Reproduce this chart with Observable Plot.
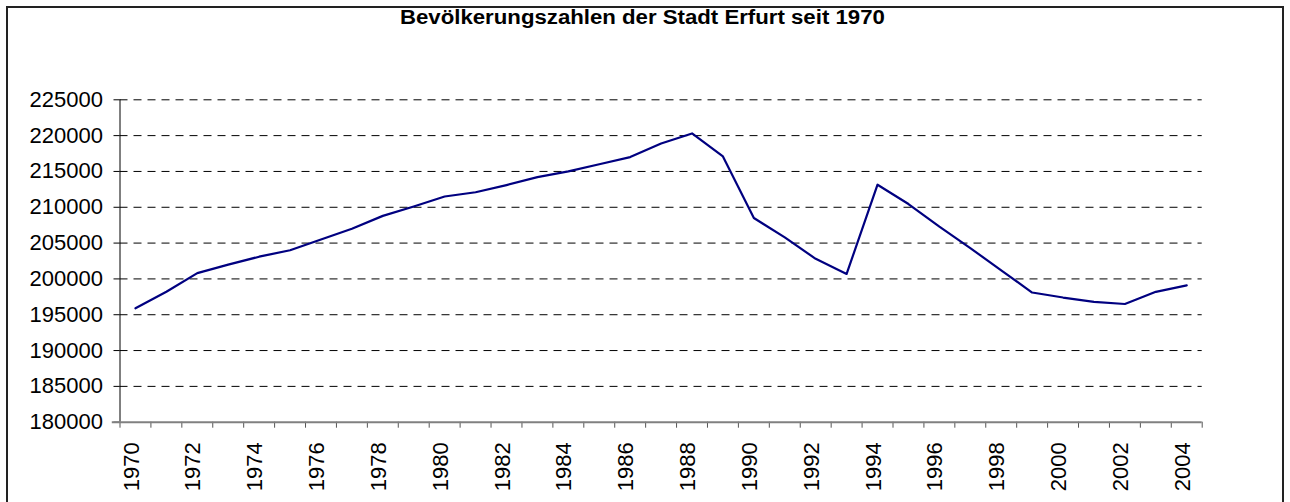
<!DOCTYPE html>
<html>
<head>
<meta charset="utf-8">
<script src="https://cdn.jsdelivr.net/npm/d3@7"></script>
<script src="https://cdn.jsdelivr.net/npm/@observablehq/plot@0.6"></script>
<style>
  html, body { margin: 0; padding: 0; background: #fff; }
  body { width: 1290px; height: 502px; overflow: hidden; position: relative; font-family: "Liberation Sans", Arial, sans-serif; }
  #frame { position: absolute; left: 6px; top: 6px; width: 1278px; height: 560px; box-sizing: border-box; border: 2px solid #222; pointer-events: none; }
  #title { position: absolute; left: -3px; top: 6px; width: 1290px; text-align: center; font-weight: bold; font-size: 20px; line-height: 22px; color: #000; }
  #title span { display: inline-block; transform: scaleX(1.11); transform-origin: center; }
  #chart { position: absolute; left: 0; top: 0; }
</style>
</head>
<body>
<div id="title"><span>Bevölkerungszahlen der Stadt Erfurt seit 1970</span></div>
<div id="chart"></div>
<div id="frame"></div>
<script>
const years = [1970,1971,1972,1973,1974,1975,1976,1977,1978,1979,
               1980,1981,1982,1983,1984,1985,1986,1987,1988,1989,
               1990,1991,1992,1993,1994,1995,1996,1997,1998,1999,
               2000,2001,2002,2003,2004];
const population = [195900,198200,200800,202000,203100,204000,205500,207000,208800,210100,
                    211500,212100,213100,214200,215000,216000,217000,218900,220300,217100,
                    208500,205800,202800,200700,213150,210450,207300,204300,201200,198100,
                    197400,196800,196500,198200,199100];
const yTicks = [180000,185000,190000,195000,200000,205000,210000,215000,220000,225000];
const gridValues = [185000,190000,195000,200000,205000,210000,215000,220000,225000];
const xLabelYears = [1970,1972,1974,1976,1978,1980,1982,1984,1986,1988,1990,1992,1994,1996,1998,2000,2002,2004];

const data = years.map((y, i) => ({year: y, pop: population[i]}));
const xMin = years[0] - 0.5, xMax = years[years.length - 1] + 0.5;
const boundaries = d3.range(xMin, xMax + 0.01, 1);

const chart = Plot.plot({
  width: 1290,
  height: 502,
  marginLeft: 119.5,
  marginRight: 88.3,
  marginTop: 99.3,
  marginBottom: 80.3,
  style: {fontFamily: "'Liberation Sans', Arial, sans-serif", background: "transparent", color: "#000"},
  x: {domain: [xMin, xMax]},
  y: {domain: [180000, 225000]},
  marks: [
    Plot.ruleY(gridValues, {x1: xMin, x2: xMax, stroke: "#000", strokeWidth: 1, strokeDasharray: "8,6"}),
    Plot.axisY({ticks: yTicks, tickSize: 6, tickPadding: 11, tickFormat: d3.format("d"), fontSize: 22, stroke: "#000", strokeOpacity: 1, label: null}),
    Plot.ruleX([xMin], {y1: 180000, y2: 225000, stroke: "#000", strokeWidth: 1}),
    Plot.axisX({ticks: boundaries, tickSize: 6, tickFormat: () => "", stroke: "#555", strokeOpacity: 1, label: null}),
    Plot.axisX({ticks: xLabelYears, tickSize: 0, tickPadding: 20, tickRotate: -90, tickFormat: d3.format("d"), fontSize: 22, dx: -4, label: null}),
    Plot.ruleY([180000], {x1: xMin - 0.25, x2: xMax, stroke: "#808080", strokeWidth: 2}),
    Plot.line(data, {x: "year", y: "pop", stroke: "#000080", strokeWidth: 2.2})
  ]
});
document.getElementById("chart").appendChild(chart);
</script>
</body>
</html>
